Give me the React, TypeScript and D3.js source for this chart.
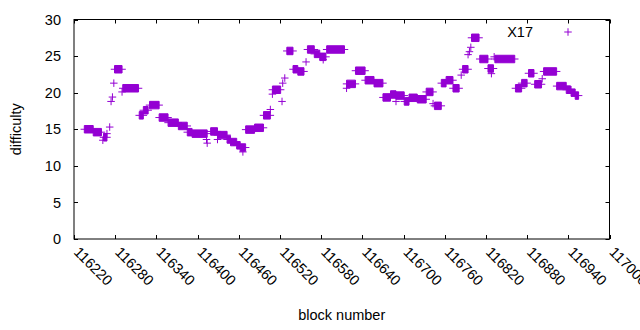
import * as d3 from 'd3';

// difficulty runs: a run is a stretch of blocks at one difficulty
const blockStart = [
  116235, 116248, 116262, 116263, 116268, 116272, 116274, 116276, 116278, 116279,
  116290, 116291, 116315, 116321, 116330, 116344, 116357, 116372, 116385, 116392,
  116413, 116414, 116419, 116429, 116429, 116443, 116448, 116457, 116462, 116466,
  116470, 116483, 116496, 116506, 116509, 116509, 116523, 116524, 116527, 116530,
  116539, 116546, 116558, 116560, 116570, 116578, 116583, 116588, 116617, 116617,
  116630, 116644, 116657, 116670, 116681, 116689, 116689, 116701, 116708, 116720,
  116733, 116743, 116745, 116755, 116762, 116772, 116784, 116786, 116794, 116796,
  116798, 116799, 116811, 116823, 116828, 116832, 116833, 116863, 116872, 116882,
  116891, 116902, 116904, 116923, 116937, 116944, 116950,
];
const blockEnd = [
  116248, 116260, 116262, 116268, 116268, 116272, 116274, 116276, 116278, 116290,
  116290, 116314, 116321, 116328, 116344, 116357, 116372, 116385, 116392, 116414,
  116413, 116414, 116429, 116429, 116443, 116448, 116457, 116462, 116470, 116466,
  116483, 116496, 116506, 116506, 116509, 116521, 116523, 116524, 116527, 116539,
  116546, 116555, 116558, 116570, 116578, 116587, 116583, 116614, 116617, 116630,
  116644, 116657, 116670, 116681, 116689, 116689, 116701, 116708, 116720, 116733,
  116743, 116743, 116755, 116762, 116772, 116781, 116784, 116794, 116794, 116796,
  116798, 116810, 116823, 116831, 116828, 116832, 116862, 116872, 116880, 116890,
  116901, 116902, 116923, 116937, 116944, 116950, 116955,
];
const difficulty = [
  15.0, 14.6, 13.5, 13.9, 14.4, 15.3, 18.8, 19.4, 21.3, 23.2,
  20.1, 20.6, 16.9, 17.6, 18.3, 16.6, 15.9, 15.45, 14.6, 14.4,
  13.6, 13.1, 14.7, 13.6, 14.2, 13.6, 13.25, 12.8, 12.5, 11.9,
  14.95, 15.2, 16.9, 17.7, 19.8, 20.4, 18.8, 21.3, 22.0, 25.7,
  23.2, 22.9, 24.2, 25.9, 25.3, 24.9, 24.5, 25.9, 20.6, 21.2,
  23.0, 21.7, 21.3, 19.35, 19.75, 18.8, 19.6, 18.8, 19.3, 19.1,
  20.1, 18.5, 18.2, 21.3, 21.7, 20.6, 22.4, 23.2, 25.2, 25.6,
  26.2, 27.5, 24.6, 23.3, 22.6, 24.9, 24.6, 20.6, 21.3, 22.65,
  21.15, 21.9, 22.9, 20.9, 20.4, 20.0, 19.6,
];

const xTicks = d3.range(116220, 117001, 60);
const yTicks = [0, 5, 10, 15, 20, 25, 30];
const seriesName = 'X17';

const W = 640;
const H = 330;
const left = 74;
const right = 609.5;
const top = 19.5;
const bottom = 239;
const color = '#9400d3';
const font = '"Liberation Sans", Arial, sans-serif';
const fs = 14.5;
const arm = 3.75; // half size of the plus mark

export default function App() {
  const x = d3.scaleLinear().domain([116220, 117000]).range([left, right]);
  const y = d3.scaleLinear().domain([0, 30]).range([bottom, top]);

  const runs = blockStart.map((s, i) => ({ s, e: blockEnd[i], d: difficulty[i] }));

  // many overlapping "+" marks merge into a bar: vertical arms become a block
  const bars = runs.map(r => {
    const x0 = x(r.s), x1 = x(r.e), yy = y(r.d);
    return `M${x0 - arm},${yy}H${x1 + arm}` +
      (x1 - x0 < 1
        ? `M${x0},${yy - arm}V${yy + arm}`
        : `M${x0},${yy - arm}H${x1}V${yy + arm}H${x0}Z`);
  }).join('');

  return (
    <svg width={W} height={H} style={{ position: 'absolute', left: 0, top: 0, background: '#fff' }}
      fontFamily={font} fontSize={fs}>
      <rect width={W} height={H} fill="#fff" />

      {/* ticks, mirrored on all sides */}
      <g stroke="#000" strokeWidth={1}>
        {xTicks.map(t => (
          <g key={t}>
            <line x1={Math.round(x(t)) + 0.5} x2={Math.round(x(t)) + 0.5} y1={bottom} y2={bottom - 4} />
            <line x1={Math.round(x(t)) + 0.5} x2={Math.round(x(t)) + 0.5} y1={top} y2={top + 4} />
          </g>
        ))}
        {yTicks.map(t => (
          <g key={t}>
            <line x1={left} x2={left + 4} y1={Math.round(y(t)) + 0.5} y2={Math.round(y(t)) + 0.5} />
            <line x1={right} x2={right - 4} y1={Math.round(y(t)) + 0.5} y2={Math.round(y(t)) + 0.5} />
          </g>
        ))}
      </g>

      <path d={bars} fill={color} stroke={color} strokeWidth={1} />

      <rect x={left} y={top} width={right - left} height={bottom - top}
        fill="none" stroke="#000" strokeWidth={1} />

      {yTicks.map(t => (
        <text key={t} x={61} y={y(t)} dy="0.36em" textAnchor="end" fill="#000">{t}</text>
      ))}
      {xTicks.map(t => (
        <text key={t} transform={`translate(${x(t) - 1},${bottom + 14}) rotate(45)`} fill="#000">{t}</text>
      ))}

      <text transform={`translate(21,${(top + bottom) / 2}) rotate(-90)`} textAnchor="middle">difficulty</text>
      <text x={(left + right) / 2} y={320} textAnchor="middle">block number</text>

      {/* key */}
      <text x={533} y={37} textAnchor="end">{seriesName}</text>
      <path d={`M${568 - arm},32H${568 + arm}M568,${32 - arm}V${32 + arm}`} stroke={color} strokeWidth={1} />
    </svg>
  );
}
